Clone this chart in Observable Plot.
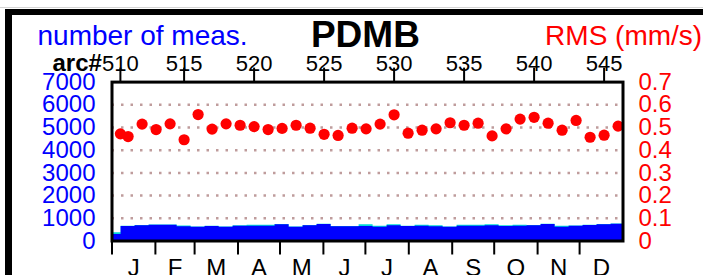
<!DOCTYPE html>
<html><head><meta charset="utf-8">
<script src="https://cdn.jsdelivr.net/npm/d3@7"></script>
<script src="https://cdn.jsdelivr.net/npm/@observablehq/plot@0.6"></script>
<style>
body{margin:0;background:#fff;}
#wrap{position:relative;width:703px;height:275px;overflow:hidden;background:#fff;}
#topline{position:absolute;left:0;top:7px;width:703px;height:1px;background:#d4d4d4;}
#border{position:absolute;left:5px;top:9px;width:800px;height:400px;border-left:7px solid #000;border-top:6px solid #000;}
#chart{position:absolute;left:0;top:0;}
</style></head><body>
<div id="wrap"><div id="topline"></div><div id="border"></div><div id="chart"></div></div>
<script>
// ---- data ----
const arcs = [510,511,512,513,514,515,516,517,518,519,520,521,522,523,524,525,526,527,528,529,530,531,532,533,534,535,536,537,538,539,540,541,542,543,544,545,546];
const arcDay = [6,11.5,21.5,31.5,41.5,51.5,61.5,71.5,81.5,91.5,101.5,111.5,121.5,131.5,141.5,151.5,161.5,171.5,181.5,191.5,201.5,211.5,221.5,231.5,241.5,251.5,261.5,271.5,281.5,291.5,301.5,311.5,321.5,331.5,341.5,351.5,361.5];
const segStart = [0,6.5,16.5,26.5,36.5,46.5,56.5,66.5,76.5,86.5,96.5,106.5,116.5,126.5,136.5,146.5,156.5,166.5,176.5,186.5,196.5,206.5,216.5,226.5,236.5,246.5,256.5,266.5,276.5,286.5,296.5,306.5,316.5,326.5,336.5,346.5,356.5];
const rms = [0.472,0.460,0.515,0.491,0.516,0.446,0.557,0.493,0.516,0.510,0.504,0.491,0.496,0.510,0.497,0.470,0.465,0.497,0.494,0.515,0.556,0.475,0.488,0.494,0.521,0.510,0.519,0.463,0.494,0.537,0.545,0.519,0.488,0.531,0.457,0.466,0.506];
const measUsed = [286,639,670,696,696,626,608,639,608,650,652,652,713,608,670,727,626,626,640,608,670,639,652,626,608,652,652,670,639,652,670,727,608,652,683,713,740];
const measTotal = [361,655,685,710,710,660,620,652,620,670,696,696,725,620,685,740,640,640,720,650,713,652,696,670,620,696,696,713,670,696,685,740,650,665,696,725,752];
const yearEnd = 365;
const monthStarts = [0,31,59,90,120,151,181,212,243,273,304,334];
const monthMid = [15.5,45,74.5,105,135.5,166,196.5,227.5,258,288.5,319,349.5];
const monthLabels = ["J","F","M","A","M","J","J","A","S","O","N","D"];
const arcTickArcs = [510,515,520,525,530,535,540,545];
const countTicks = [0,1000,2000,3000,4000,5000,6000,7000];
const rmsTickLabels = ["0","0.1","0.2","0.3","0.4","0.5","0.6","0.7"];
const gridCounts = [1000,2000,3000,4000,5000,6000];
const titleLeft = "number of meas.";
const titleMain = "PDMB";
const titleRight = "RMS (mm/s)";
const arcLabel = "arc#";
const RMS_TO_COUNT = 10000; // right axis 0.7 <-> left axis 7000

// ---- build tables ----
const rmsData = arcs.map((a, i) => ({arc: a, day: arcDay[i], v: rms[i] * RMS_TO_COUNT}));
const measData = segStart.map((s, i) => ({x: s, used: measUsed[i], total: measTotal[i]}));
measData.push({x: yearEnd, used: measUsed[measUsed.length - 1], total: measTotal[measTotal.length - 1]});
const monthMap = new Map(monthMid.map((d, i) => [d, monthLabels[i]]));
const arcDayMap = new Map(arcs.map((a, i) => [a, arcDay[i]]));
const topTickDays = arcTickArcs.map(a => arcDayMap.get(a));
const topLabelMap = new Map(arcTickArcs.map(a => [arcDayMap.get(a), String(a)]));
const rightLabelMap = new Map(countTicks.map((c, i) => [c, rmsTickLabels[i]]));

const FONT = "Liberation Sans, Arial, Helvetica, sans-serif";
const BLUE = "#0000ff", RED = "#ff0000";

const chart = Plot.plot({
  width: 703, height: 275,
  marginLeft: 111.5, marginRight: 80.5, marginTop: 81.6, marginBottom: 34.5,
  style: {fontFamily: FONT, background: "transparent", overflow: "visible"},
  x: {domain: [0, yearEnd]},
  y: {domain: [0, 7000]},
  marks: [
    Plot.ruleY(gridCounts, {stroke: "#bf9c9c", strokeWidth: 2.5, strokeDasharray: "2.5,7"}),
    Plot.areaY(measData, {x: "x", y: "total", curve: "step-after", fill: "#00d8d8"}),
    Plot.areaY(measData, {x: "x", y: "used", curve: "step-after", fill: BLUE}),
    Plot.dot(rmsData, {x: "day", y: "v", r: 5.6, fill: RED, stroke: null, clip: "frame"}),
    Plot.frame({stroke: "#000", strokeWidth: 3}),
    Plot.axisY({anchor: "left", ticks: countTicks, tickSize: 0, tickPadding: 16.5, tickFormat: d => String(d), fontSize: 24, color: BLUE, label: null}),
    Plot.axisY({anchor: "right", ticks: countTicks, tickSize: 0, tickPadding: 15.5, tickFormat: d => rightLabelMap.get(d), fontSize: 24, color: RED, label: null}),
    Plot.axisX({anchor: "bottom", ticks: monthStarts, tickSize: 14, strokeWidth: 2, tickFormat: () => "", label: null}),
    Plot.axisX({anchor: "bottom", ticks: monthMid, tickSize: 0, tickPadding: 17.5, tickFormat: d => monthMap.get(d), fontSize: 24, color: "#000", label: null}),
    Plot.axisX({anchor: "top", ticks: topTickDays, tickSize: 15, strokeWidth: 2, tickFormat: () => "", label: null}),
    Plot.axisX({anchor: "top", ticks: topTickDays, tickSize: 0, tickPadding: 11.6, tickFormat: d => topLabelMap.get(d), fontSize: 22, color: "#000", label: null}),
    Plot.text([titleLeft], {frameAnchor: "top-left", dx: -74.5, dy: -37.3, textAnchor: "start", lineAnchor: "bottom", fontSize: 28, fill: BLUE}),
    Plot.text([titleMain], {frameAnchor: "top-left", dx: 253.4, dy: -35, textAnchor: "middle", lineAnchor: "bottom", fontSize: 37, fontWeight: "bold", fill: "#000"}),
    Plot.text([titleRight], {frameAnchor: "top-right", dx: 79.2, dy: -37.6, textAnchor: "end", lineAnchor: "bottom", fontSize: 28, fill: RED}),
    Plot.text([arcLabel], {frameAnchor: "top-left", dx: -59.5, dy: -11.6, textAnchor: "start", lineAnchor: "bottom", fontSize: 24, fontWeight: "bold", fill: "#000"})
  ]
});
document.getElementById("chart").appendChild(chart);
</script>
</body></html>
